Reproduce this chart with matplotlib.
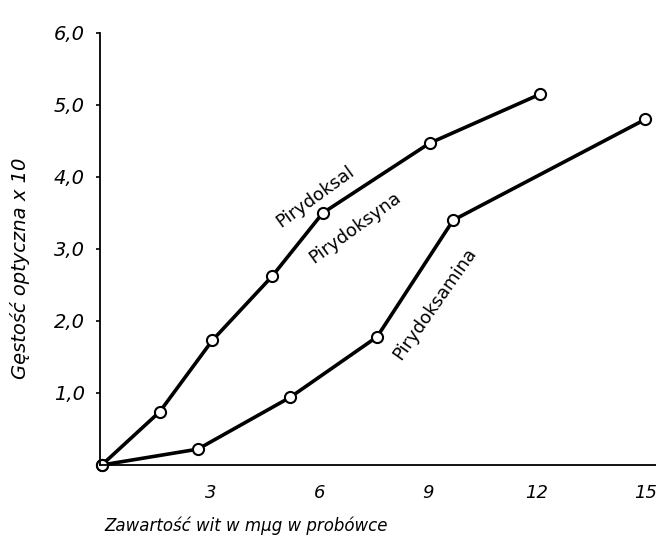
import matplotlib
matplotlib.use('Agg')
import matplotlib.pyplot as plt

x_pal = [0, 1.6, 3.05, 4.7, 6.1, 9.05, 12.1]
y_pal = [0, 0.74, 1.73, 2.62, 3.5, 4.47, 5.15]
x_amina = [0, 2.65, 5.2, 7.6, 9.7, 15.0]
y_amina = [0, 0.22, 0.94, 1.78, 3.4, 4.8]

xticks = [3, 6, 9, 12, 15]
xtick_labels = ['3', '6', '9', '12', '15']
yticks = [1, 2, 3, 4, 5, 6]
ytick_labels = ['1,0', '2,0', '3,0', '4,0', '5,0', '6,0']

plt.rcParams['font.family'] = ['DejaVu Sans']

fig = plt.figure(figsize=(6.56, 5.46), dpi=100)
ax = fig.add_axes([100 / 656, 1 - 465 / 546, 556 / 656, (465 - 33) / 546])

style = dict(color='black', lw=2.6, marker='o', ms=8, mfc='white', mec='black', mew=1.5, clip_on=False)
ax.plot(x_pal, y_pal, **style)
ax.plot(x_amina, y_amina, **style)

ax.set_xlim(-0.05, 15.3)
ax.set_ylim(0, 6.0)
for s in ['top', 'right']:
    ax.spines[s].set_visible(False)
ax.spines['left'].set_linewidth(1.3)
ax.spines['bottom'].set_linewidth(1.3)

ax.set_xticks(xticks)
ax.set_xticklabels(xtick_labels, fontsize=13, style='italic')
ax.set_yticks(yticks)
ax.set_yticklabels(ytick_labels, fontsize=14, style='italic')
ax.tick_params(axis='x', length=0, pad=14)
ax.tick_params(axis='y', length=3, width=1.2, pad=8)

ax.set_xlabel('Zawartość wit w mμg w probówce', fontsize=12, style='italic')
ax.xaxis.set_label_coords(0.262, -0.12)
ax.set_ylabel('Gęstość optyczna x 10', fontsize=14, style='italic')
ax.yaxis.set_label_coords(-0.125, 0.455)

ax.text(5.9, 3.73, 'Pirydoksal', rotation=36, fontsize=13, ha='center', va='center')
ax.text(7.0, 3.3, 'Pirydoksyna', rotation=36, fontsize=13, ha='center', va='center')
ax.text(9.2, 2.24, 'Pirydoksamina', rotation=55, fontsize=13, ha='center', va='center')

fig.savefig('out.png', dpi=100)
